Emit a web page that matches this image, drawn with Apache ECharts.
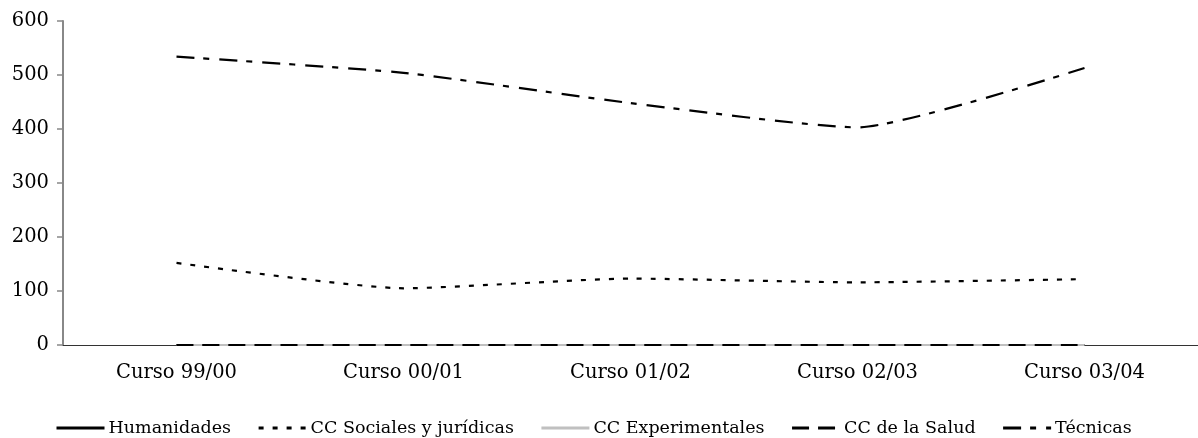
<!DOCTYPE html>
<html>
<head>
<meta charset="utf-8">
<script src="https://cdn.jsdelivr.net/npm/echarts@6/dist/echarts.min.js"></script>
<style>
  html, body { margin: 0; padding: 0; background: #fff; }
  #chart { width: 1198px; height: 438px; }
</style>
</head>
<body>
<div id="chart"></div>
<script>
// Academic years on the x axis
const cursos = ['Curso 99/00', 'Curso 00/01', 'Curso 01/02', 'Curso 02/03', 'Curso 03/04'];

// Values per branch of knowledge
const humanidades    = [0, 0, 0, 0, 0];
const ccSociales     = [152, 105, 123, 116, 122];
const ccExperimental = [0, 0, 0, 0, 0];
const ccSalud        = [0, 0, 0, 0, 0];
const tecnicas       = [534, 504, 448, 403, 513];

const serieNames = ['Humanidades', 'CC Sociales y jurídicas', 'CC Experimentales', 'CC de la Salud', 'Técnicas'];

const axisFont = 'DejaVu Serif';

function lineSeries(name, data, color, type) {
  return {
    name: name,
    type: 'line',
    data: data,
    smooth: 0.18,
    symbol: 'none',
    lineStyle: { color: color, width: 2.2, type: type, cap: 'butt' },
    itemStyle: { color: color },
    emphasis: { disabled: true }
  };
}

const chart = echarts.init(document.getElementById('chart'));
chart.setOption({
  backgroundColor: '#ffffff',
  animation: false,
  grid: { left: 63, right: 0, top: 21, bottom: 93 },
  legend: {
    top: 414,
    left: 50,
    itemWidth: 48,
    itemHeight: 14,
    itemGap: 26,
    itemStyle: { opacity: 0 },
    lineStyle: { width: 3 },
    textStyle: { fontFamily: axisFont, fontSize: 17.5, color: '#000', padding: [0, 0, 0, -1] },
    data: serieNames
  },
  xAxis: {
    type: 'category',
    data: cursos,
    boundaryGap: true,
    axisLine: { lineStyle: { color: '#333', width: 1 } },
    axisTick: { show: false },
    axisLabel: { fontFamily: axisFont, fontSize: 19.5, color: '#000', margin: 18 }
  },
  yAxis: {
    type: 'value',
    min: 0,
    max: 600,
    interval: 100,
    splitLine: { show: false },
    axisLine: { show: true, lineStyle: { color: '#888', width: 2 } },
    axisTick: { show: true, length: 6, lineStyle: { color: '#888', width: 1.5 } },
    axisLabel: { fontFamily: axisFont, fontSize: 19.5, color: '#000', margin: 14 }
  },
  series: [
    lineSeries(serieNames[0], humanidades, '#000000', 'solid'),
    lineSeries(serieNames[1], ccSociales, '#000000', [5, 9]),
    lineSeries(serieNames[2], ccExperimental, '#c0c0c0', 'solid'),
    lineSeries(serieNames[3], ccSalud, '#000000', [17, 9]),
    lineSeries(serieNames[4], tecnicas, '#000000', [18, 9, 6, 10])
  ]
});
</script>
</body>
</html>
